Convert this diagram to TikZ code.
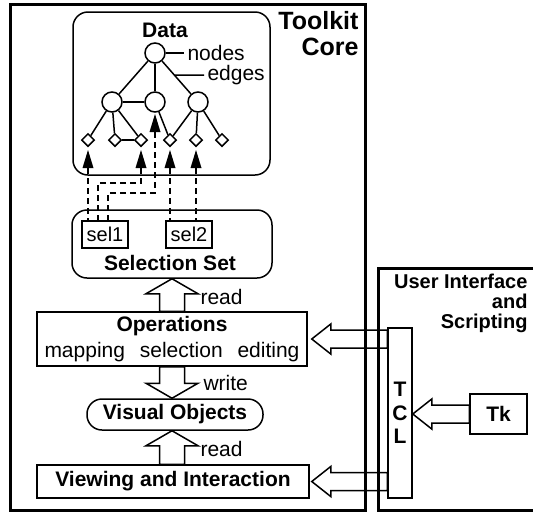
\documentclass[tikz,border=0pt]{standalone}
\usepackage{fontspec}
\setmainfont{Liberation Sans}
\usetikzlibrary{positioning,calc,shapes.geometric}

\begin{document}
\begin{tikzpicture}[x=1pt,y=-1pt,
  every node/.style={font=\fontsize{21}{24}\selectfont},
  bold/.style={font=\bfseries\fontsize{21}{24}\selectfont},
  box/.style={draw, line width=1.5pt, inner sep=0pt},
  outer/.style={line width=3pt},
  tnode/.style={circle, draw, line width=1.5pt, minimum size=20pt, inner sep=0pt},
  leaf/.style={diamond, draw, line width=1.5pt, minimum size=13pt, inner sep=0pt},
  link/.style={line width=1.5pt},
  ptrline/.style={line width=1.3pt, dash pattern=on 6pt off 4pt},
  fat/.style n args={3}{line width=1.5pt, line join=miter, to path={
    ($(\tikztostart)!#1!90:(\tikztotarget)$)
    -- ($(\tikztotarget)!#3!(\tikztostart)!#1!90:(\tikztotarget)$)
    -- ($(\tikztotarget)!#3!(\tikztostart)!#2!90:(\tikztotarget)$)
    -- (\tikztotarget)
    -- ($(\tikztotarget)!#3!(\tikztostart)!#2!-90:(\tikztotarget)$)
    -- ($(\tikztotarget)!#3!(\tikztostart)!#1!-90:(\tikztotarget)$)
    -- ($(\tikztostart)!#1!-90:(\tikztotarget)$) -- cycle}},
  ptr/.pic={\fill (-5.5,0) -- (0,-18) -- (5.5,0) -- cycle;}
]
\useasboundingbox (0,0) rectangle (533,512);

% frames
\draw[outer] (10,4) rectangle (365,510);
\draw[outer] (540,268) -- (378,268) -- (378,510) -- (540,510);
\node[anchor=east, align=right, font=\bfseries\fontsize{25}{26}\selectfont] (core) at (362,34) {Toolkit\\Core};
\node[anchor=east, align=right, font=\bfseries\fontsize{20}{20}\selectfont] (ui) at (531,303) {User Interface\\and\\Scripting};

% data
\node[box, rounded corners=15pt, minimum width=197pt, minimum height=163pt] (data) at (171.5,93.5) {};
\node[bold] (dtitle) at (165,30) {Data};
\node[tnode] (root) at (155,53) {};
\node[tnode] (c1) at (112,102) {};
\node[tnode] (c2) at (155,102) {};
\node[tnode] (c3) at (198,102) {};
\foreach \i/\x in {1/88,2/115,3/141,4/170,5/196,6/222}
  \node[leaf] (d\i) at (\x,140) {};
\foreach \a/\b in {root/c1,root/c2,root/c3,c1/c2,c1/d1,c1/d2,c1/d3,d2/d3,c2/d4,c3/d4,c3/d5,c3/d6}
  \draw[link] (\a) -- (\b);
\node[anchor=west] (nodes) at (184,53) {nodes};
\draw[link] (root) -- (nodes);
\coordinate (ep) at ($(root)!0.45!(c3)$);
\node[anchor=west] (edges) at (204,75) {edges};
\draw[link] (ep) -- (edges.west);

% pointers
\coordinate (t1) at (88,168);
\coordinate (t3) at (141,168);
\coordinate (tm) at (155,132);
\coordinate (t4) at (170,168);
\coordinate (t5) at (196,168);
\foreach \p in {t1,t3,tm,t4,t5}
  \pic at (\p) {ptr};

% selection set
\node[box, rounded corners=15pt, minimum width=200pt, minimum height=68pt] (selset) at (172,244) {};
\node[bold] (seltitle) at (170,263) {Selection Set};
\node[box, minimum width=46pt, minimum height=27pt, font=\fontsize{20}{20}\selectfont] (s1) at (105,234.5) {sel1};
\node[box, minimum width=46pt, minimum height=27pt, font=\fontsize{20}{20}\selectfont] (s2) at (189,234.5) {sel2};
\coordinate (k1) at (98,183);
\coordinate (k2) at (108,193);
\draw[ptrline] (t1) -- (t1 |- s1.north);
\draw[ptrline] (t3) |- (k1) -- (k1 |- s1.north);
\draw[ptrline] (tm) |- (k2) -- (k2 |- s1.north);
\draw[ptrline] (t4) -- (t4 |- s2.north);
\draw[ptrline] (t5) -- (t5 |- s2.north);

% operations and views
\node[box, minimum width=270pt, minimum height=54pt, align=center, font=\fontsize{21}{26}\selectfont] (ops) at (172,339)
  {\textbf{Operations}\\mapping\hspace{9pt} selection\hspace{9pt} editing};
\node[box, bold, rounded corners=15pt, minimum width=176pt, minimum height=31pt] (vis) at (175,414.5) {Visual Objects};
\node[box, bold, minimum width=272pt, minimum height=33pt] (view) at (173,481.5) {Viewing and Interaction};

% tcl and tk
\node[box, minimum width=24pt, minimum height=170pt, align=center, font=\bfseries\fontsize{21}{23.5}\selectfont] (tcl) at (400,413) {T\\C\\L};
\node[box, bold, minimum width=57pt, minimum height=40pt] (tk) at (498.5,414) {Tk};

% arrows
\draw[fat={12.5pt}{26pt}{15pt}] (ops.north) to (selset.south);
\draw[fat={12.5pt}{26pt}{15pt}] (ops.south) to (vis.north -| ops.south);
\draw[fat={12.5pt}{26pt}{15pt}] (view.north -| ops.south) to (vis.south -| ops.south);
\node[anchor=west] (rd1) at (197,297) {read};
\node[anchor=west] (wr) at (200,383) {write};
\node[anchor=west] (rd2) at (197,449) {read};
\coordinate (opsin) at ($(ops.east)+(4,0)$);
\coordinate (viewin) at ($(view.east)+(2,0)$);
\draw[fat={9pt}{15pt}{19pt}] (tcl.west |- opsin) to (opsin);
\draw[fat={9pt}{15pt}{19pt}] (tcl.west |- viewin) to (viewin);
\draw[fat={9pt}{15pt}{19pt}] (tk.west) to (tcl.east |- tk.west);
\end{tikzpicture}
\end{document}
